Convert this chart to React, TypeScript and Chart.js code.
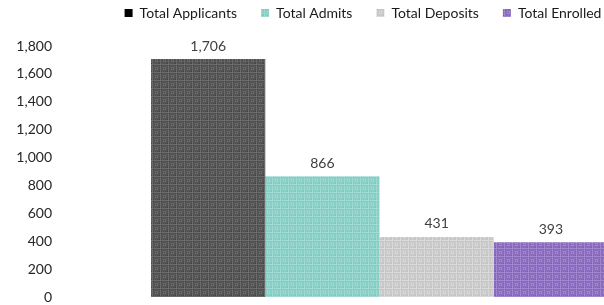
import React, { useEffect, useRef } from "react";
import { Chart, registerables } from "chart.js";

Chart.register(...registerables);

const categories = [""];
const seriesNames = ["Total Applicants", "Total Admits", "Total Deposits", "Total Enrolled"];
const seriesValues = [[1706], [866], [431], [393]];
const yTicks = { min: 0, max: 1800, step: 200 };

const baseColors = ["#535353", "#89cfc6", "#c9c9c9", "#8a6bbd"];
const lightColors = ["#6a6a6a", "#a0d9d2", "#d8d8d8", "#a086cc"];
const darkColors = ["#3e3e3e", "#77c3b9", "#bcbcbc", "#7659aa"];
const legendColors = ["#000000", null, null, null];

function makePattern(base: string, light: string, dark: string) {
  const c = document.createElement("canvas");
  c.width = 8;
  c.height = 8;
  const g = c.getContext("2d")!;
  g.fillStyle = base;
  g.fillRect(0, 0, 8, 8);
  g.fillStyle = light;
  g.fillRect(0, 0, 8, 1);
  g.fillRect(0, 0, 1, 8);
  g.fillRect(3, 3, 3, 1);
  g.fillRect(3, 5, 3, 1);
  g.fillRect(3, 3, 1, 3);
  g.fillRect(5, 3, 1, 3);
  g.fillStyle = dark;
  g.fillRect(4, 4, 1, 1);
  g.fillRect(1, 1, 1, 1);
  g.fillRect(7, 7, 1, 1);
  return g.createPattern(c, "repeat")!;
}

const FONT = "Lato, 'Open Sans', sans-serif";

export default function App() {
  const ref = useRef<HTMLCanvasElement>(null);
  useEffect(() => {
    const canvas = ref.current!;
    const patterns = baseColors.map((b, i) => makePattern(b, lightColors[i], darkColors[i]));
    const legendAdjust = {
      id: "legendAdjust",
      beforeInit(chart: any) {
        const orig = chart.legend.fit;
        chart.legend.fit = function () {
          orig.call(this);
          this.height -= 2;
        };
      },
      afterLayout(chart: any) {
        const lg = chart.legend;
        lg.left += 13.5;
        lg.right += 13.5;
        lg.top -= 18;
        lg.bottom -= 18;
      },
    };
    const valueLabels = {
      id: "valueLabels",
      afterDatasetsDraw(chart: any) {
        const ctx = chart.ctx;
        ctx.save();
        ctx.font = `14px ${FONT}`;
        ctx.fillStyle = "#404040";
        ctx.textAlign = "center";
        ctx.textBaseline = "bottom";
        chart.data.datasets.forEach((ds: any, i: number) => {
          const meta = chart.getDatasetMeta(i);
          meta.data.forEach((el: any, j: number) => {
            ctx.fillText(Number(ds.data[j]).toLocaleString("en-US"), el.x, el.y - 6);
          });
        });
        ctx.restore();
      },
    };
    const chart = new Chart(canvas, {
      type: "bar",
      data: {
        labels: categories,
        datasets: seriesNames.map((name, i) => ({
          label: name,
          data: seriesValues[i],
          backgroundColor: patterns[i],
          borderWidth: 0,
          barPercentage: 1,
          categoryPercentage: 0.715,
        })),
      },
      options: {
        responsive: false,
        animation: false,
        layout: { padding: { left: 0, right: 27, top: 0, bottom: 8 } },
        plugins: {
          tooltip: { enabled: false },
          legend: {
            position: "top",
            labels: {
              boxWidth: 8,
              boxHeight: 8,
              padding: 24,
              color: "#1a1a1a",
              font: { family: FONT, size: 14 },
              generateLabels(chart: any) {
                return chart.data.datasets.map((ds: any, i: number) => ({
                  text: ds.label,
                  fillStyle: legendColors[i] || patterns[i],
                  strokeStyle: "rgba(0,0,0,0)",
                  lineWidth: 0,
                  hidden: false,
                  datasetIndex: i,
                  fontColor: "#1a1a1a",
                }));
              },
            },
          },
        },
        scales: {
          x: { display: false },
          y: {
            min: yTicks.min,
            max: yTicks.max,
            grid: { display: false, drawTicks: false },
            border: { display: false },
            afterFit(axis: any) {
              axis.width = 60;
              axis.paddingBottom = 0;
              axis.paddingTop = 0;
            },
            ticks: {
              stepSize: yTicks.step,
              padding: 8,
              color: "#262626",
              font: { family: FONT, size: 14 },
              callback: (v: any) => Number(v).toLocaleString("en-US"),
            },
          },
        },
      },
      plugins: [legendAdjust, valueLabels],
    } as any);
    return () => chart.destroy();
  }, []);
  return (
    <div style={{ position: "fixed", left: 0, top: 0, width: 604, height: 305, overflow: "hidden", background: "#fff" }}>
      <canvas ref={ref} width={726} height={305} style={{ display: "block" }} />
    </div>
  );
}
